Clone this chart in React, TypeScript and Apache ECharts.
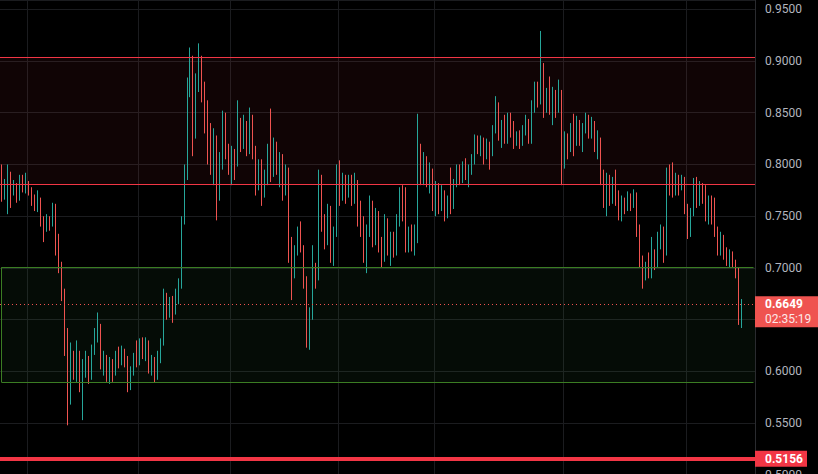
import React, { useEffect, useRef } from "react";
import * as echarts from "echarts";

// ---- data ----
const firstOpen = 0.785;
const closes = [
  0.771, 0.78, 0.792, 0.775, 0.778, 0.77, 0.787, 0.78, 0.781, 0.776,
  0.768, 0.762, 0.768, 0.745, 0.736, 0.748, 0.742, 0.76, 0.732, 0.705,
  0.68, 0.64, 0.585, 0.615, 0.6, 0.618, 0.592, 0.605, 0.612, 0.595,
  0.62, 0.638, 0.645, 0.608, 0.614, 0.6, 0.61, 0.598, 0.615, 0.608,
  0.62, 0.612, 0.595, 0.6, 0.615, 0.61, 0.628, 0.618, 0.628, 0.603,
  0.612, 0.595, 0.615, 0.628, 0.672, 0.66, 0.668, 0.655, 0.67, 0.684,
  0.745, 0.79, 0.88, 0.905, 0.83, 0.88, 0.905, 0.87, 0.85, 0.83,
  0.805, 0.825, 0.77, 0.8, 0.84, 0.815, 0.795, 0.81, 0.8, 0.84,
  0.825, 0.835, 0.815, 0.845, 0.812, 0.785, 0.8, 0.77, 0.785, 0.81,
  0.79, 0.82, 0.8, 0.805, 0.785, 0.795, 0.73, 0.69, 0.715, 0.735,
  0.72, 0.69, 0.63, 0.655, 0.7, 0.69, 0.76, 0.745, 0.725, 0.74,
  0.715, 0.735, 0.78, 0.77, 0.785, 0.77, 0.782, 0.77, 0.78, 0.76,
  0.745, 0.725, 0.735, 0.758, 0.74, 0.752, 0.725, 0.712, 0.745, 0.725,
  0.728, 0.718, 0.745, 0.77, 0.752, 0.725, 0.735, 0.722, 0.74, 0.808,
  0.79, 0.805, 0.788, 0.796, 0.77, 0.778, 0.765, 0.772, 0.752, 0.765,
  0.76, 0.782, 0.795, 0.785, 0.795, 0.79, 0.795, 0.805, 0.826, 0.815,
  0.825, 0.81, 0.82, 0.812, 0.835, 0.858, 0.83, 0.838, 0.828, 0.845,
  0.835, 0.825, 0.828, 0.822, 0.832, 0.84, 0.833, 0.855, 0.87, 0.862,
  0.895, 0.862, 0.868, 0.855, 0.87, 0.852, 0.87, 0.8, 0.825, 0.815,
  0.83, 0.826, 0.84, 0.825, 0.835, 0.845, 0.835, 0.842, 0.82, 0.826,
  0.79, 0.765, 0.785, 0.77, 0.78, 0.768, 0.755, 0.765, 0.758, 0.77,
  0.762, 0.772, 0.74, 0.705, 0.695, 0.702, 0.695, 0.712, 0.705, 0.725,
  0.738, 0.715, 0.79, 0.778, 0.775, 0.788, 0.778, 0.787, 0.76, 0.738,
  0.752, 0.775, 0.765, 0.778, 0.768, 0.752, 0.765, 0.75, 0.738, 0.725,
  0.728, 0.715, 0.71, 0.713, 0.705, 0.698, 0.652, 0.6649,
];
const highs = [
  0.8, 0.786, 0.8, 0.793, 0.785, 0.782, 0.79, 0.79, 0.792, 0.784,
  0.778, 0.771, 0.775, 0.768, 0.75, 0.752, 0.75, 0.763, 0.762, 0.733,
  0.706, 0.68, 0.642, 0.628, 0.62, 0.63, 0.62, 0.612, 0.62, 0.615,
  0.626, 0.642, 0.657, 0.646, 0.62, 0.616, 0.614, 0.612, 0.62, 0.624,
  0.625, 0.622, 0.615, 0.605, 0.618, 0.63, 0.632, 0.633, 0.633, 0.63,
  0.616, 0.614, 0.62, 0.632, 0.68, 0.676, 0.672, 0.673, 0.68, 0.69,
  0.75, 0.8, 0.884, 0.913, 0.9, 0.888, 0.917, 0.905, 0.88, 0.862,
  0.84, 0.835, 0.828, 0.812, 0.852, 0.85, 0.82, 0.818, 0.815, 0.862,
  0.845, 0.848, 0.842, 0.855, 0.848, 0.818, 0.805, 0.805, 0.795, 0.82,
  0.854, 0.826, 0.822, 0.812, 0.81, 0.8, 0.797, 0.718, 0.722, 0.74,
  0.745, 0.722, 0.692, 0.662, 0.722, 0.705, 0.795, 0.79, 0.752, 0.762,
  0.76, 0.74, 0.8, 0.804, 0.792, 0.79, 0.79, 0.79, 0.792, 0.785,
  0.765, 0.75, 0.742, 0.77, 0.765, 0.758, 0.755, 0.73, 0.752, 0.748,
  0.735, 0.735, 0.752, 0.778, 0.78, 0.778, 0.74, 0.742, 0.742, 0.849,
  0.82, 0.812, 0.808, 0.802, 0.795, 0.784, 0.782, 0.78, 0.775, 0.77,
  0.797, 0.786, 0.8, 0.8, 0.803, 0.806, 0.8, 0.81, 0.829, 0.828,
  0.828, 0.826, 0.825, 0.822, 0.838, 0.866, 0.86, 0.843, 0.848, 0.85,
  0.85, 0.842, 0.832, 0.833, 0.838, 0.848, 0.844, 0.862, 0.88, 0.88,
  0.929, 0.898, 0.874, 0.885, 0.875, 0.872, 0.882, 0.872, 0.832, 0.83,
  0.84, 0.849, 0.847, 0.843, 0.84, 0.85, 0.848, 0.846, 0.838, 0.833,
  0.822, 0.795, 0.792, 0.79, 0.788, 0.795, 0.775, 0.77, 0.768, 0.774,
  0.772, 0.776, 0.773, 0.742, 0.712, 0.706, 0.715, 0.73, 0.718, 0.735,
  0.742, 0.74, 0.797, 0.8, 0.802, 0.792, 0.79, 0.79, 0.788, 0.762,
  0.758, 0.787, 0.788, 0.784, 0.782, 0.78, 0.77, 0.77, 0.768, 0.74,
  0.735, 0.732, 0.72, 0.718, 0.716, 0.708, 0.7, 0.67,
];
const lows = [
  0.764, 0.766, 0.752, 0.758, 0.77, 0.763, 0.765, 0.773, 0.772, 0.77,
  0.76, 0.755, 0.754, 0.74, 0.725, 0.735, 0.736, 0.74, 0.712, 0.695,
  0.668, 0.615, 0.548, 0.568, 0.592, 0.59, 0.58, 0.553, 0.594, 0.588,
  0.592, 0.616, 0.628, 0.602, 0.596, 0.59, 0.588, 0.59, 0.596, 0.603,
  0.606, 0.604, 0.58, 0.582, 0.596, 0.604, 0.606, 0.612, 0.61, 0.598,
  0.596, 0.589, 0.592, 0.608, 0.625, 0.65, 0.652, 0.647, 0.656, 0.665,
  0.68, 0.742, 0.785, 0.865, 0.808, 0.825, 0.87, 0.86, 0.83, 0.8,
  0.79, 0.78, 0.746, 0.765, 0.795, 0.805, 0.79, 0.78, 0.785, 0.798,
  0.812, 0.815, 0.808, 0.81, 0.805, 0.77, 0.775, 0.76, 0.768, 0.78,
  0.783, 0.788, 0.79, 0.778, 0.765, 0.77, 0.705, 0.669, 0.692, 0.712,
  0.715, 0.68, 0.623, 0.621, 0.65, 0.68, 0.688, 0.735, 0.718, 0.722,
  0.705, 0.702, 0.73, 0.76, 0.765, 0.762, 0.768, 0.76, 0.762, 0.74,
  0.73, 0.705, 0.695, 0.73, 0.72, 0.722, 0.715, 0.7, 0.706, 0.712,
  0.702, 0.71, 0.712, 0.74, 0.745, 0.715, 0.715, 0.716, 0.712, 0.724,
  0.78, 0.78, 0.778, 0.772, 0.755, 0.75, 0.752, 0.755, 0.745, 0.748,
  0.752, 0.757, 0.778, 0.78, 0.782, 0.785, 0.778, 0.79, 0.8, 0.81,
  0.808, 0.8, 0.805, 0.795, 0.808, 0.83, 0.823, 0.816, 0.82, 0.82,
  0.826, 0.815, 0.818, 0.815, 0.818, 0.828, 0.82, 0.82, 0.85, 0.855,
  0.858, 0.845, 0.85, 0.848, 0.838, 0.845, 0.85, 0.78, 0.796, 0.805,
  0.812, 0.808, 0.818, 0.818, 0.812, 0.83, 0.825, 0.825, 0.812, 0.805,
  0.78, 0.758, 0.75, 0.76, 0.762, 0.76, 0.746, 0.745, 0.752, 0.755,
  0.755, 0.758, 0.73, 0.7, 0.68, 0.688, 0.69, 0.69, 0.698, 0.7,
  0.718, 0.705, 0.712, 0.77, 0.768, 0.77, 0.77, 0.775, 0.752, 0.728,
  0.73, 0.75, 0.758, 0.76, 0.762, 0.745, 0.742, 0.742, 0.73, 0.712,
  0.712, 0.708, 0.702, 0.7, 0.7, 0.69, 0.645, 0.642,
];
const categoryCount = 252; // slots on the time axis (last few are empty)
const timeBreaks = [9, 46, 77, 113, 145, 188, 229]; // session separators (category index)
const priceTicks = [0.5, 0.55, 0.6, 0.65, 0.7, 0.75, 0.8, 0.85, 0.9, 0.95];
const priceMax = 0.9589;
const lastPrice = 0.6649;
const countdown = "02:35:19";
const supportLevel = 0.5156;
const redZone = [0.7812, 0.9034];
const greenZone = [0.5896, 0.7007];

const UP = "#26a69a";
const DOWN = "#ef5350";
const ZONE_RED = "#f23645";
const ZONE_GREEN = "#3b7d23";
const FONT = "Roboto, 'Noto Sans', sans-serif";

export default function App() {
  const ref = useRef<HTMLDivElement>(null);

  useEffect(() => {
    if (!ref.current) return;
    const chart = echarts.init(ref.current, undefined, { renderer: "svg" });
    const categories = Array.from({ length: categoryCount }, (_, i) => String(i));
    const opens = closes.map((c, i) => (i === 0 ? firstOpen : closes[i - 1]));
    const rows = closes.map((c, i) => {
      const o = opens[i];
      return [o, c, Math.min(lows[i], o, c), Math.max(highs[i], o, c)];
    });
    const interval = priceTicks[1] - priceTicks[0];
    const solid = (color: string, width = 1) => ({ color, width, type: "solid" });

    chart.setOption({
      animation: false,
      backgroundColor: "#000000",
      grid: { left: 0, right: 63, top: 0, bottom: 0, containLabel: false, outerBoundsMode: "none" },
      xAxis: {
        type: "category",
        data: categories,
        boundaryGap: true,
        axisLine: { show: false },
        axisTick: { show: false },
        axisLabel: { show: false },
        splitLine: {
          show: true,
          interval: (i: number) => timeBreaks.includes(i),
          lineStyle: { color: "#1b1c1f", width: 1 },
        },
      },
      yAxis: {
        type: "value",
        position: "right",
        min: priceTicks[0],
        max: priceMax,
        interval,
        axisLine: { show: true, lineStyle: { color: "#2a2b2f", width: 1 } },
        axisTick: { show: false },
        splitLine: { show: true, lineStyle: { color: "#1b1c1f", width: 1 } },
        axisLabel: {
          margin: 10,
          color: "#b2b5be",
          fontSize: 12,
          fontFamily: FONT,
          showMaxLabel: false,
          formatter: (v: number) =>
            priceTicks.some((t) => Math.abs(t - v) < 1e-6) && Math.abs(v - lastPrice) > 0.025
              ? v.toFixed(4)
              : "",
        },
      },
      series: [
        {
          type: "candlestick",
          data: rows,
          barWidth: 1.2,
          itemStyle: {
            color: UP,
            color0: DOWN,
            borderColor: UP,
            borderColor0: DOWN,
            borderWidth: 1,
          },
          markArea: {
            silent: true,
            precision: 4,
            data: [
              [
                { yAxis: redZone[1], itemStyle: { color: "rgba(242,54,69,0.065)" } },
                { yAxis: redZone[0] },
              ],
              [
                { xAxis: 0, yAxis: greenZone[1], itemStyle: { color: "rgba(76,175,80,0.07)" } },
                { yAxis: greenZone[0] },
              ],
            ],
          },
          markLine: {
            silent: true,
            precision: 4,
            symbol: "none",
            label: { show: false },
            data: [
              { yAxis: redZone[1], lineStyle: solid(ZONE_RED) },
              { yAxis: redZone[0], lineStyle: solid(ZONE_RED) },
              [
                { xAxis: 0, yAxis: greenZone[1], lineStyle: solid(ZONE_GREEN) },
                { xAxis: 0, yAxis: greenZone[0] },
              ],
              [
                { xAxis: 0, yAxis: greenZone[1], lineStyle: solid(ZONE_GREEN) },
                { xAxis: categoryCount - 1, yAxis: greenZone[1] },
              ],
              [
                { xAxis: 0, yAxis: greenZone[0], lineStyle: solid(ZONE_GREEN) },
                { xAxis: categoryCount - 1, yAxis: greenZone[0] },
              ],
              { yAxis: lastPrice, lineStyle: { color: DOWN, width: 1, type: [1, 3] } },
              { yAxis: supportLevel, lineStyle: solid(ZONE_RED, 4) },
            ],
          },
        },
      ],
    });

    const yLast = chart.convertToPixel({ yAxisIndex: 0 }, lastPrice) as number;
    const ySup = chart.convertToPixel({ yAxisIndex: 0 }, supportLevel) as number;
    const axisX = 755;

    chart.setOption({
      graphic: [
        {
          type: "rect",
          shape: { x: axisX, y: yLast - 8, width: 63, height: 31 },
          style: { fill: DOWN },
          z: 100,
        },
        {
          type: "text",
          x: axisX + 10,
          y: yLast,
          style: {
            text: lastPrice.toFixed(4),
            fill: "#ffffff",
            fontSize: 12,
            fontWeight: "bold",
            fontFamily: FONT,
            verticalAlign: "middle",
          },
          z: 101,
        },
        {
          type: "text",
          x: axisX + 10,
          y: yLast + 15,
          style: {
            text: countdown,
            fill: "#fde7e7",
            fontSize: 12,
            fontFamily: FONT,
            verticalAlign: "middle",
          },
          z: 101,
        },
        {
          type: "rect",
          shape: { x: axisX, y: ySup - 8, width: 52, height: 16 },
          style: { fill: ZONE_RED },
          z: 100,
        },
        {
          type: "text",
          x: axisX + 10,
          y: ySup,
          style: {
            text: supportLevel.toFixed(4),
            fill: "#ffffff",
            fontSize: 12,
            fontWeight: "bold",
            fontFamily: FONT,
            verticalAlign: "middle",
          },
          z: 101,
        },
      ],
    });

    return () => chart.dispose();
  }, []);

  return (
    <div
      ref={ref}
      style={{ position: "fixed", left: 0, top: 0, width: 818, height: 475, background: "#000" }}
    />
  );
}
